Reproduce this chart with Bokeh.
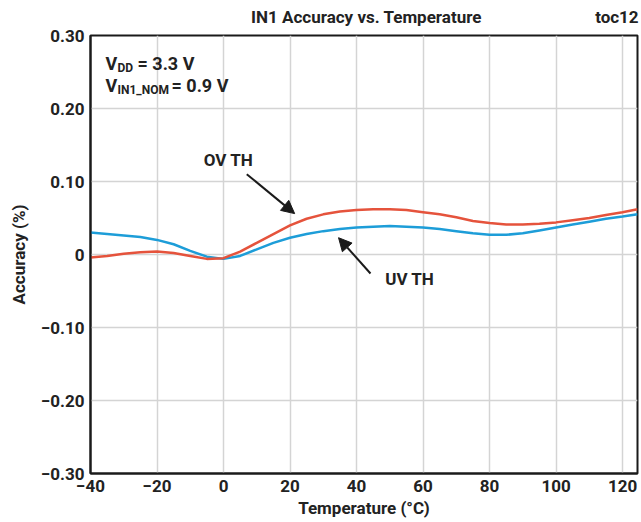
from bokeh.plotting import figure
from bokeh.models import (Label, Arrow, NormalHead, FixedTicker, CustomJSTickFormatter, Range1d,
                          LinearAxis)
from bokeh.embed import file_html
from bokeh.resources import INLINE

# ---- data ----
temp = [-40, -35, -30, -25, -20, -15, -10, -5, 0, 5, 10, 15, 20, 25, 30, 35, 40, 45, 50,
        55, 60, 65, 70, 75, 80, 85, 90, 95, 100, 105, 110, 115, 120, 124.5]
ov_th = [-0.004, -0.002, 0.001, 0.003, 0.004, 0.002, -0.002, -0.006, -0.005, 0.004, 0.016,
         0.028, 0.040, 0.049, 0.055, 0.059, 0.061, 0.062, 0.062, 0.061, 0.058, 0.055, 0.051,
         0.046, 0.043, 0.041, 0.041, 0.042, 0.044, 0.047, 0.050, 0.054, 0.058, 0.062]
uv_th = [0.030, 0.028, 0.026, 0.024, 0.020, 0.014, 0.005, -0.003, -0.006, -0.002, 0.007,
         0.016, 0.023, 0.028, 0.032, 0.035, 0.037, 0.038, 0.039, 0.038, 0.037, 0.035, 0.032,
         0.029, 0.027, 0.027, 0.029, 0.033, 0.037, 0.041, 0.045, 0.049, 0.052, 0.055]
x_ticks = [-40, -20, 0, 20, 40, 60, 80, 100, 120]
y_ticks = [-0.3, -0.2, -0.1, 0.0, 0.1, 0.2, 0.3]
title_text = "IN1 Accuracy vs. Temperature"
toc_text = "toc12"

FONT = "Roboto"
RED = "#e5533c"
BLUE = "#1d9dd8"
INK = "#222222"

p = figure(width=641, height=522, output_backend="svg", toolbar_location=None,
           x_range=Range1d(-40, 124.5), y_range=Range1d(-0.30, 0.30),
           min_border_left=90, min_border_right=4, min_border_top=35, min_border_bottom=49)

p.outline_line_color = "#1a1a1a"
p.outline_line_width = 2
p.background_fill_color = "white"
p.border_fill_color = "white"

for ax in (p.xaxis, p.yaxis):
    ax.major_tick_in = 0
    ax.major_tick_out = 0
    ax.minor_tick_in = 0
    ax.minor_tick_out = 0
    ax.axis_line_color = "#1a1a1a"
    ax.axis_line_width = 2
    ax.major_label_text_font = FONT
    ax.major_label_text_font_size = "17px"
    ax.major_label_text_font_style = "bold"
    ax.major_label_text_color = INK
    ax.axis_label_text_font = FONT
    ax.axis_label_text_font_size = "17px"
    ax.axis_label_text_font_style = "bold"
    ax.axis_label_text_color = INK

p.xaxis.ticker = FixedTicker(ticks=x_ticks)
p.yaxis.ticker = FixedTicker(ticks=y_ticks)
p.xaxis.formatter = CustomJSTickFormatter(code="""
    const t = Math.round(tick);
    return (t < 0 ? "\u2212" : "") + Math.abs(t).toString();
""")
p.yaxis.formatter = CustomJSTickFormatter(code="""
    if (Math.abs(tick) < 1e-9) { return "0"; }
    return (tick < 0 ? "\u2212" : "") + Math.abs(tick).toFixed(2);
""")
p.xaxis.axis_label = "Temperature (°C)"
p.yaxis.axis_label = "Accuracy (%)"
p.xaxis.major_label_standoff = 6
p.yaxis.major_label_standoff = 6
p.xaxis.axis_label_standoff = 3
p.yaxis.axis_label_standoff = 9

# header line: chart title (centred over the frame) and "toc12" at the right, on one row
top = LinearAxis(ticker=FixedTicker(ticks=[43.0, 118.3]),
                 formatter=CustomJSTickFormatter(
                     args=dict(a=title_text, b=toc_text),
                     code="return tick < 100 ? a : b;"),
                 axis_line_color=None, major_tick_in=0, major_tick_out=0,
                 minor_tick_in=0, minor_tick_out=0,
                 major_label_text_font=FONT, major_label_text_font_size="17px",
                 major_label_text_font_style="bold", major_label_text_color=INK,
                 major_label_standoff=9)
p.add_layout(top, "above")

p.grid.grid_line_color = "#d4d4d4"
p.grid.grid_line_width = 1.5

p.line(temp, uv_th, line_color=BLUE, line_width=2.5)
p.line(temp, ov_th, line_color=RED, line_width=2.5)

def lab(x, y, text, size="18px", align="left", baseline="alphabetic", xo=0, yo=0):
    l = Label(x=x, y=y, text=text, x_offset=xo, y_offset=yo, text_font=FONT,
              text_font_size=size, text_font_style="bold", text_color=INK,
              text_align=align, text_baseline=baseline)
    p.add_layout(l)

# condition text
lab(-40, 0.2616, "V", xo=15)
lab(-40, 0.2560, "DD", size="12px", xo=27)
lab(-40, 0.2616, "= 3.3 V", xo=47)
lab(-40, 0.2315, "V", xo=15)
lab(-40, 0.2250, "IN1_NOM", size="12px", xo=27)
lab(-40, 0.2315, "= 0.9 V", xo=81)

# series labels and arrows
lab(1.5, 0.130, "OV TH", size="17px", align="center", baseline="middle")
lab(56.0, -0.033, "UV TH", size="17px", align="center", baseline="middle")
p.add_layout(Arrow(end=NormalHead(size=13, fill_color="#1a1a1a", line_color="#1a1a1a"),
                   x_start=7.0, y_start=0.110, x_end=21.4, y_end=0.056,
                   line_width=2, line_color="#1a1a1a"))
p.add_layout(Arrow(end=NormalHead(size=13, fill_color="#1a1a1a", line_color="#1a1a1a"),
                   x_start=44.2, y_start=-0.026, x_end=34.6, y_end=0.023,
                   line_width=2, line_color="#1a1a1a"))

open("out.html", "w").write(file_html(p, INLINE))
